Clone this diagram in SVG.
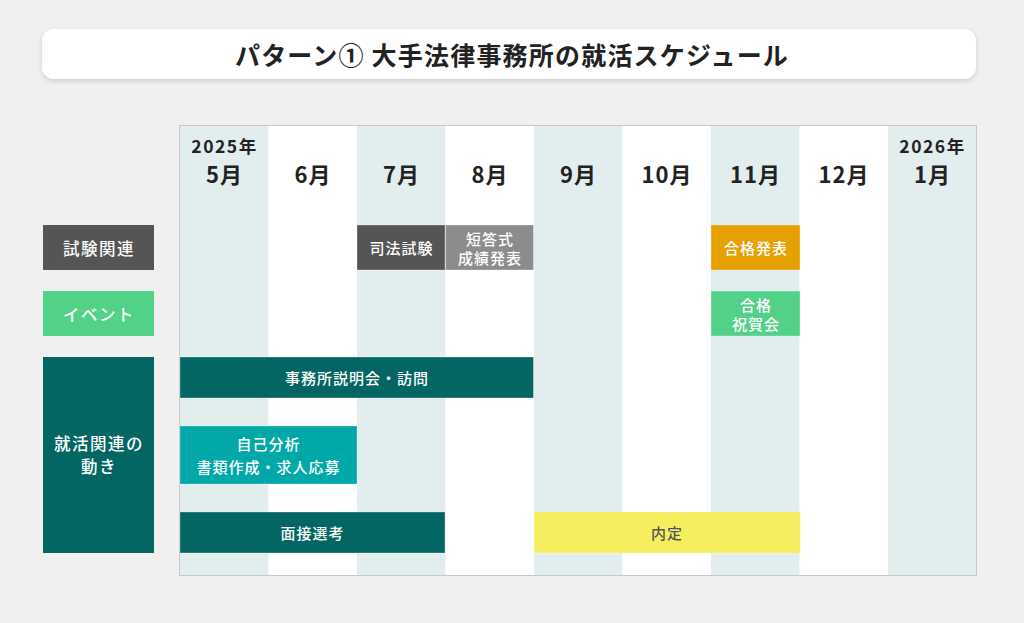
<svg xmlns="http://www.w3.org/2000/svg" width="1024" height="623" viewBox="0 0 1024 623">
<defs>
<filter id="sh" x="-5%" y="-30%" width="110%" height="170%">
<feDropShadow dx="0" dy="2" stdDeviation="2.5" flood-color="#000" flood-opacity="0.15"/>
</filter>
<style>
text{font-family:"Noto Sans CJK JP","Noto Sans",sans-serif;text-anchor:middle;dominant-baseline:central}
.title{font-size:25px;font-weight:700;fill:#222;letter-spacing:1.2px}
.yr{font-size:17.5px;font-weight:700;fill:#222;letter-spacing:1.5px}
.mo{font-size:22px;font-weight:700;fill:#222;letter-spacing:1px}
.lb{font-size:15px;font-weight:500;fill:#fff;letter-spacing:1px}
.lb2{font-size:16.5px;font-weight:500;fill:#fff;letter-spacing:1.5px}
.bar{stroke:#fff;stroke-opacity:0.3;stroke-width:1}
.shade{fill:#e2eeee}
.plain{fill:#ffffff}
</style>
</defs>
<rect x="0" y="0" width="1024" height="623" fill="#f0f0f0"/>
<g id="title">
<rect x="42" y="29" width="934" height="50" rx="12" fill="#fff" filter="url(#sh)"/>
<text class="title" x="512" y="54">パターン① 大手法律事務所の就活スケジュール</text>
</g>
<g id="grid">
<rect class="shade" x="180" y="126" width="88.5" height="449"/>
<rect class="plain" x="268.5" y="126" width="88.5" height="449"/>
<rect class="shade" x="357" y="126" width="88.5" height="449"/>
<rect class="plain" x="445.5" y="126" width="88.5" height="449"/>
<rect class="shade" x="534" y="126" width="88.5" height="449"/>
<rect class="plain" x="622.5" y="126" width="88.5" height="449"/>
<rect class="shade" x="711" y="126" width="88.5" height="449"/>
<rect class="plain" x="799.5" y="126" width="88.5" height="449"/>
<rect class="shade" x="888" y="126" width="88.5" height="449"/>
<rect x="179.5" y="125.5" width="797" height="450" fill="none" stroke="#c8c8c8" stroke-width="1"/>
</g>
<g id="months">
<text class="yr" x="224.5" y="145">2025年</text>
<text class="mo" x="224.5" y="173">5月</text>
<text class="mo" x="313" y="173">6月</text>
<text class="mo" x="401.5" y="173">7月</text>
<text class="mo" x="490" y="173">8月</text>
<text class="mo" x="578.5" y="173">9月</text>
<text class="mo" x="667" y="173">10月</text>
<text class="mo" x="755.5" y="173">11月</text>
<text class="mo" x="844" y="173">12月</text>
<text class="yr" x="932.5" y="145">2026年</text>
<text class="mo" x="932.5" y="173">1月</text>
</g>
<g id="row-labels">
<g id="label-exam">
<rect x="43" y="225" width="111" height="45" fill="#555555"/>
<text class="lb2" x="99" y="247.5">試験関連</text>
</g>
<g id="label-event">
<rect x="43" y="291" width="111" height="45" fill="#52d189"/>
<text class="lb2" x="99" y="313.5">イベント</text>
</g>
<g id="label-job">
<rect x="43" y="357" width="111" height="196" fill="#036663"/>
<text class="lb2" x="99" y="443">就活関連の</text>
<text class="lb2" x="99" y="466">動き</text>
</g>
</g>
<g id="bars">
<g id="bar-shiho">
<rect class="bar" x="357" y="225" width="88" height="45" fill="#555555"/>
<text class="lb" x="401.5" y="247.5">司法試験</text>
</g>
<g id="bar-tanto">
<rect class="bar" x="445.5" y="225" width="88" height="45" fill="#8c8c8c"/>
<text class="lb" x="490" y="238">短答式</text>
<text class="lb" x="490" y="257">成績発表</text>
</g>
<g id="bar-gokaku">
<rect class="bar" x="711" y="225" width="89" height="45" fill="#e6a100"/>
<text class="lb" x="756" y="247.5">合格発表</text>
</g>
<g id="bar-shukugakai">
<rect class="bar" x="711" y="291" width="89" height="45" fill="#52d189"/>
<text class="lb" x="756" y="304">合格</text>
<text class="lb" x="756" y="323">祝賀会</text>
</g>
<g id="bar-setsumeikai">
<rect class="bar" x="180" y="357" width="353.5" height="41" fill="#036663"/>
<text class="lb" x="357" y="377.5">事務所説明会・訪問</text>
</g>
<g id="bar-jiko">
<rect class="bar" x="180" y="426" width="177" height="58" fill="#00a9a8"/>
<text class="lb" x="268.5" y="443">自己分析</text>
<text class="lb" x="268.5" y="466">書類作成・求人応募</text>
</g>
<g id="bar-mensetsu">
<rect class="bar" x="180" y="512" width="265" height="41" fill="#036663"/>
<text class="lb" x="312.5" y="532.5">面接選考</text>
</g>
<g id="bar-naitei">
<rect class="bar" x="534" y="512" width="266.5" height="41" fill="#f5ef5f"/>
<text class="lb" x="667" y="532.5" style="fill:#555">内定</text>
</g>
</g>
<g id="connectors"></g>
</svg>
